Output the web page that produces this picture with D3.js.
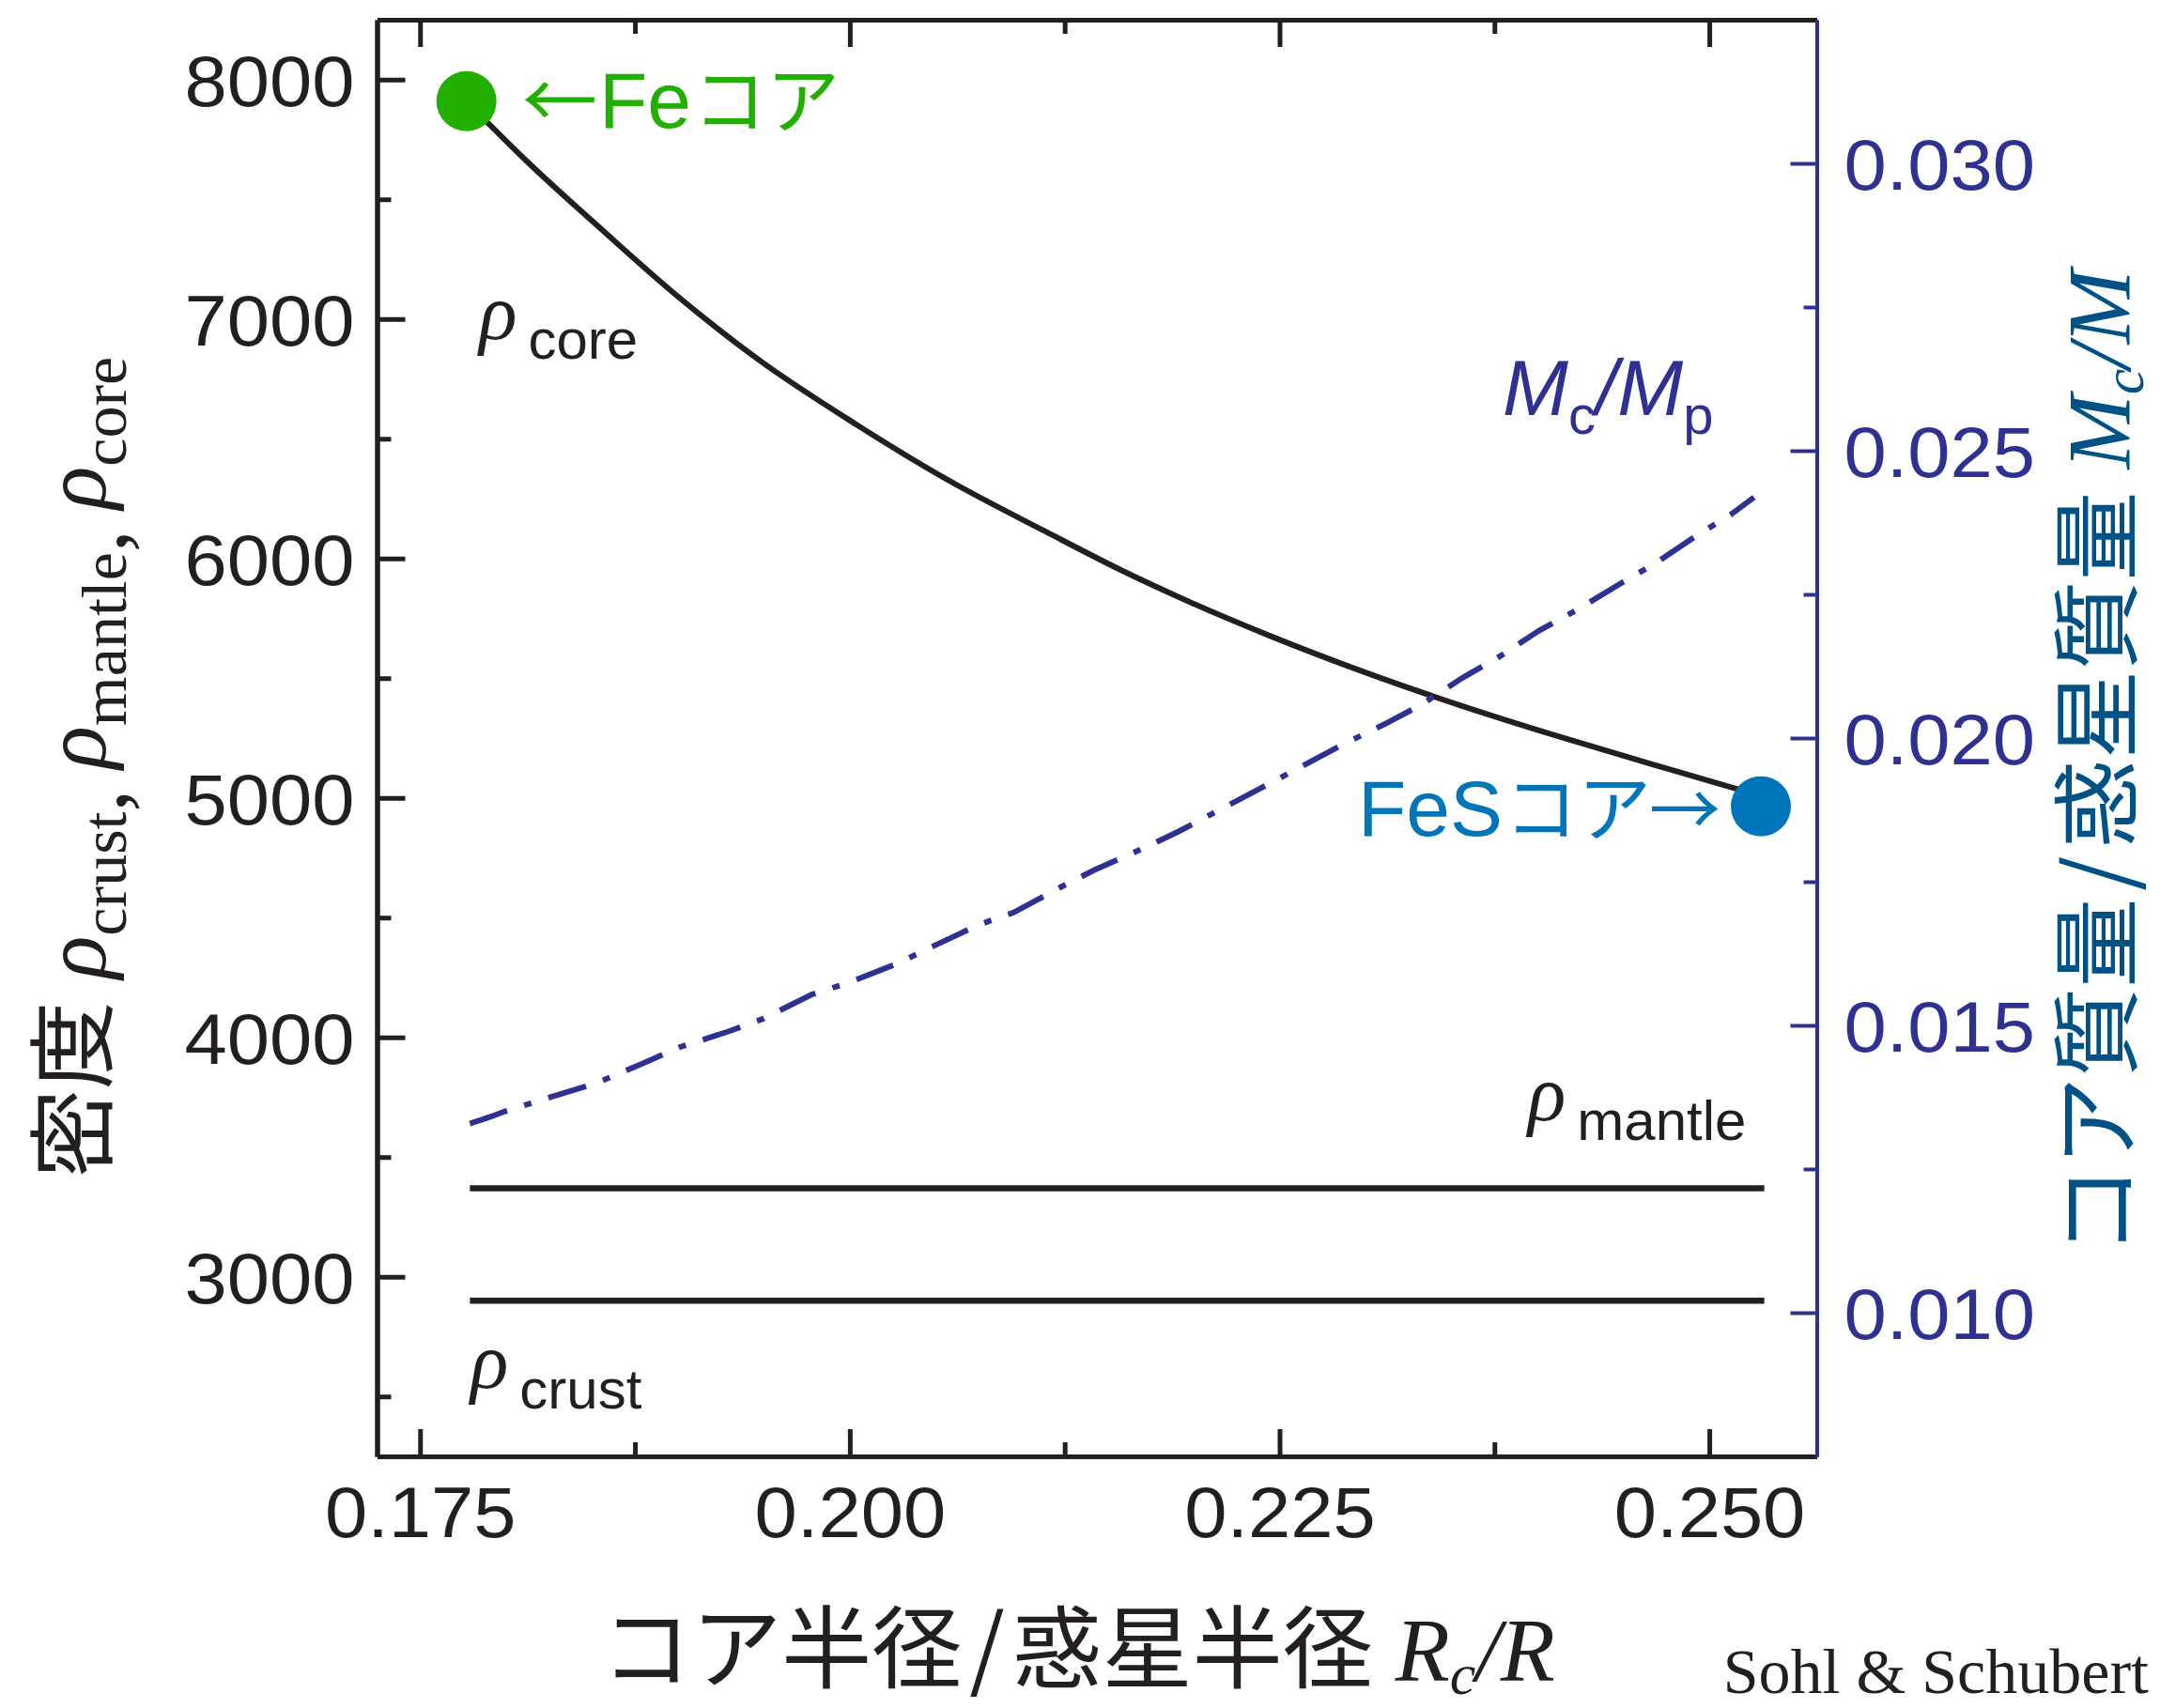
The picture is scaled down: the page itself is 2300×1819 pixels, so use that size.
<!DOCTYPE html>
<html>
<head>
<meta charset="utf-8">
<script src="https://cdn.jsdelivr.net/npm/d3@7"></script>
<style>
  body { margin: 0; background: #fff; }
  svg { display: block; }
</style>
</head>
<body>
<svg id="chart" width="2300" height="1819"></svg>
<script>
// ---------- data ----------
// core radius / planet radius (x) and core density (kg/m^3)
const coreRadius  = [0.1777, 0.1813, 0.1853, 0.1897, 0.1947, 0.2003, 0.2059, 0.2114, 0.2161,
                     0.2190, 0.2245, 0.2301, 0.2357, 0.2413, 0.2468, 0.2514, 0.2530];
const coreDensity = [7910, 7653, 7391, 7112, 6830, 6563, 6320, 6112, 5940,
                     5843, 5675, 5521, 5382, 5255, 5138, 5042, 5010];

// core mass / planet mass (right axis)
const massRadius   = [0.1779, 0.1792, 0.1799, 0.1830, 0.1853, 0.1879, 0.1901, 0.1929, 0.1950, 0.1978,
                      0.2000, 0.2028, 0.2048, 0.2075, 0.2095, 0.2123, 0.2142, 0.2170, 0.2191, 0.2217,
                      0.2238, 0.2265, 0.2285, 0.2311, 0.2332, 0.2356, 0.2377, 0.2401, 0.2423, 0.2449,
                      0.2468, 0.2493, 0.2513, 0.2526];
const massFraction = [0.01329, 0.01342, 0.01350, 0.01379, 0.01400, 0.01433, 0.01462, 0.01489, 0.01512, 0.01554,
                      0.01575, 0.01608, 0.01637, 0.01675, 0.01696, 0.01741, 0.01770, 0.01807, 0.01837, 0.01878,
                      0.01911, 0.01954, 0.01986, 0.02024, 0.02057, 0.02104, 0.02140, 0.02187, 0.02223, 0.02270,
                      0.02303, 0.02353, 0.02390, 0.02419];

// constant layer densities
const layerNames   = ["mantle", "crust"];
const layerDensity = [3370, 2900];
const layerRange   = [0.1779, 0.2532];

// end-member cores
const endNames   = ["Fe", "FeS"];
const endRadius  = [0.1777, 0.2530];
const endDensity = [7910, 4965];

// ticks
const xMajor  = [0.175, 0.200, 0.225, 0.250];
const xMinor  = [0.1875, 0.2125, 0.2375];
const yMajor  = [3000, 4000, 5000, 6000, 7000, 8000];
const yMinor  = [2500, 3500, 4500, 5500, 6500, 7500];
const y2Major = [0.010, 0.015, 0.020, 0.025, 0.030];
const y2Minor = [0.0125, 0.0175, 0.0225, 0.0275];

// ---------- layout ----------
const svg = d3.select("#chart");
const plot = { left: 401.5, right: 1934.5, top: 21, bottom: 1551 };

const BLACK = "#231f20", NAVY = "#2e3192", TITLEBLUE = "#005286",
      GREEN = "#22b000", FESBLUE = "#0075b9";
const SANS = "'Liberation Sans', Arial, Helvetica, sans-serif";
const SERIF = "'Liberation Serif', 'Times New Roman', serif";
const CJK = "'Noto Sans CJK JP', sans-serif";

const x  = d3.scaleLinear().domain([0.1725, 0.25625]).range([plot.left, plot.right]);
const y  = d3.scaleLinear().domain([2250, 8250]).range([plot.bottom, plot.top]);
const y2 = d3.scaleLinear().domain([0.0075, 0.0325]).range([plot.bottom, plot.top]);

// widen the sans digits slightly (Helvetica-style wide numerals)
function stretch(sel, k) {
  sel.each(function () {
    const len = this.getComputedTextLength();
    d3.select(this).attr("textLength", len * k).attr("lengthAdjust", "spacingAndGlyphs");
  });
}

function styleAxis(g, color, width) {
  g.select(".domain").attr("stroke", color).attr("stroke-width", width);
  g.selectAll(".tick line").attr("stroke", color).attr("stroke-width", width);
}

const fmt3 = d3.format(".3f");

// ---------- axes ----------
// bottom
const gx = svg.append("g").attr("transform", `translate(0,${plot.bottom})`)
  .call(d3.axisBottom(x).tickValues(xMajor).tickSize(-29).tickSizeOuter(0).tickPadding(0).tickFormat(fmt3));
styleAxis(gx, BLACK, 5);
gx.selectAll(".tick text").attr("font-family", SANS).attr("font-size", 76).attr("fill", BLACK)
  .attr("y", 86).attr("dy", 0);
stretch(gx.selectAll(".tick text"), 1.07);
const gxm = svg.append("g").attr("transform", `translate(0,${plot.bottom})`)
  .call(d3.axisBottom(x).tickValues(xMinor).tickSize(-15).tickSizeOuter(0).tickFormat(""));
styleAxis(gxm, BLACK, 5);

// top
const gt = svg.append("g").attr("transform", `translate(0,${plot.top})`)
  .call(d3.axisTop(x).tickValues(xMajor).tickSize(-29).tickSizeOuter(0).tickFormat(""));
styleAxis(gt, BLACK, 5);
const gtm = svg.append("g").attr("transform", `translate(0,${plot.top})`)
  .call(d3.axisTop(x).tickValues(xMinor).tickSize(-15).tickSizeOuter(0).tickFormat(""));
styleAxis(gtm, BLACK, 5);

// left
const gy = svg.append("g").attr("transform", `translate(${plot.left},0)`)
  .call(d3.axisLeft(y).tickValues(yMajor).tickSize(-30).tickSizeOuter(0).tickPadding(0).tickFormat(d3.format("d")));
styleAxis(gy, BLACK, 5);
gy.selectAll(".tick text").attr("font-family", SANS).attr("font-size", 76).attr("fill", BLACK)
  .attr("x", -24).attr("dy", "0.36em");
stretch(gy.selectAll(".tick text"), 1.07);
const gym = svg.append("g").attr("transform", `translate(${plot.left},0)`)
  .call(d3.axisLeft(y).tickValues(yMinor).tickSize(-15).tickSizeOuter(0).tickFormat(""));
styleAxis(gym, BLACK, 5);

// right (core mass fraction)
const gr = svg.append("g").attr("transform", `translate(${plot.right},0)`)
  .call(d3.axisRight(y2).tickValues(y2Major).tickSize(-28).tickSizeOuter(0).tickPadding(0).tickFormat(fmt3));
styleAxis(gr, NAVY, 4);
gr.selectAll(".tick text").attr("font-family", SANS).attr("font-size", 76).attr("fill", NAVY)
  .attr("x", 29).attr("dy", "0.36em");
stretch(gr.selectAll(".tick text"), 1.07);
const grm = svg.append("g").attr("transform", `translate(${plot.right},0)`)
  .call(d3.axisRight(y2).tickValues(y2Minor).tickSize(-14).tickSizeOuter(0).tickFormat(""));
styleAxis(grm, NAVY, 4);

// ---------- series ----------
const corePts = coreRadius.map((r, i) => [r, coreDensity[i]]);
svg.append("path")
  .datum(corePts)
  .attr("fill", "none").attr("stroke", BLACK).attr("stroke-width", 6)
  .attr("d", d3.line().x(d => x(d[0])).y(d => y(d[1])).curve(d3.curveMonotoneX));

const massPts = massRadius.map((r, i) => [r, massFraction[i]]);
svg.append("path")
  .datum(massPts)
  .attr("fill", "none").attr("stroke", NAVY).attr("stroke-width", 6)
  .attr("stroke-dasharray", "42,19,8,19")
  .attr("d", d3.line().x(d => x(d[0])).y(d => y2(d[1])));

svg.selectAll("line.layer")
  .data(layerDensity)
  .join("line").attr("class", "layer")
  .attr("x1", x(layerRange[0])).attr("x2", x(layerRange[1]))
  .attr("y1", d => y(d)).attr("y2", d => y(d))
  .attr("stroke", BLACK).attr("stroke-width", 6.5);

svg.selectAll("circle.end")
  .data(endNames)
  .join("circle").attr("class", "end")
  .attr("cx", (d, i) => x(endRadius[i])).attr("cy", (d, i) => y(endDensity[i]))
  .attr("r", 32)
  .attr("fill", (d, i) => i === 0 ? GREEN : FESBLUE);

// ---------- in-plot labels ----------
function rhoLabel(px, baseRho, sub, baseSub) {
  const t = svg.append("text").attr("fill", BLACK);
  t.append("tspan").attr("x", px).attr("y", baseRho)
    .attr("font-family", SERIF).attr("font-style", "italic").attr("font-size", 84).text("ρ");
  t.append("tspan").attr("dx", 12).attr("y", baseSub)
    .attr("font-family", SANS).attr("font-size", 60).text(sub);
}
rhoLabel(x(0.1780) + 8, 361, "core", 382);
rhoLabel(1627, 1193, "mantle", 1214);
rhoLabel(501, 1478, "crust", 1500);

// core / planet mass label
const mlab = svg.append("text").attr("fill", NAVY).attr("font-family", SANS);
mlab.append("tspan").attr("x", 1600).attr("y", 442).attr("font-style", "italic").attr("font-size", 84).text("M");
mlab.append("tspan").attr("y", 462).attr("font-size", 58).text("c");
mlab.append("tspan").attr("y", 442).attr("font-style", "italic").attr("font-size", 84).text("/M");
mlab.append("tspan").attr("y", 462).attr("font-size", 58).text("p");

// end-member labels
const feLab = svg.append("text").attr("fill", GREEN).attr("x", 556).attr("y", 136);
feLab.append("tspan").attr("font-family", CJK).attr("font-size", 80).text("←");
feLab.append("tspan").attr("font-family", SANS).attr("font-size", 84).attr("dx", 2).text("Fe");
feLab.append("tspan").attr("font-family", CJK).attr("font-size", 78).attr("dx", 2).text("コア");

const fesLab = svg.append("text").attr("fill", FESBLUE).attr("x", 1446).attr("y", 890);
fesLab.append("tspan").attr("font-family", SANS).attr("font-size", 84).text("FeS");
fesLab.append("tspan").attr("font-family", CJK).attr("font-size", 78).attr("dx", 2).text("コア");
fesLab.append("tspan").attr("font-family", CJK).attr("font-size", 76).attr("dx", -2).text("→");

// ---------- axis titles ----------
// left: density
const yt = svg.append("text").attr("fill", BLACK).attr("text-anchor", "middle")
  .attr("transform", "translate(112,817) rotate(-90)");
yt.append("tspan").attr("font-family", CJK).attr("font-size", 94).text("密度");
[["crust", true], ["mantle", true], ["core", false]].forEach(([s, comma], i) => {
  yt.append("tspan").attr("font-family", SERIF).attr("font-style", "italic").attr("font-size", 95)
    .attr("dx", i === 0 ? 24 : 22).attr("dy", i === 0 ? 0 : -22).text("ρ");
  yt.append("tspan").attr("font-family", SERIF).attr("font-size", 68).attr("dy", 22).text(s);
  if (comma) yt.append("tspan").attr("font-family", SERIF).attr("font-size", 95).attr("dy", 0).text(",");
});

// right: core mass fraction
const rt = svg.append("text").attr("fill", TITLEBLUE).attr("text-anchor", "middle")
  .attr("transform", "translate(2268,812) rotate(-90)");
rt.append("tspan").attr("font-family", CJK).attr("font-size", 95).text("コア質量");
rt.append("tspan").attr("font-family", CJK).attr("font-size", 95).attr("dx", 8).text("/");
rt.append("tspan").attr("font-family", CJK).attr("font-size", 95).attr("dx", 8).text("惑星質量");
rt.append("tspan").attr("font-family", SERIF).attr("font-style", "italic").attr("font-size", 95).attr("dx", 24).text("M");
rt.append("tspan").attr("font-family", SERIF).attr("font-style", "italic").attr("font-size", 62).attr("dy", 14).text("c");
rt.append("tspan").attr("font-family", SERIF).attr("font-style", "italic").attr("font-size", 95).attr("dy", -14).text("/M");

// bottom: core radius fraction
const xt = svg.append("text").attr("fill", BLACK).attr("text-anchor", "middle")
  .attr("transform", "translate(1148,1790)");
xt.append("tspan").attr("font-family", CJK).attr("font-size", 96).text("コア半径");
xt.append("tspan").attr("font-family", CJK).attr("font-size", 96).attr("dx", 8).text("/");
xt.append("tspan").attr("font-family", CJK).attr("font-size", 96).attr("dx", 8).text("惑星半径");
xt.append("tspan").attr("font-family", SERIF).attr("font-style", "italic").attr("font-size", 95).attr("dx", 24).text("R");
xt.append("tspan").attr("font-family", SERIF).attr("font-style", "italic").attr("font-size", 62).attr("dy", 14).text("c");
xt.append("tspan").attr("font-family", SERIF).attr("font-style", "italic").attr("font-size", 95).attr("dy", -14).text("/R");

// credit
svg.append("text").attr("x", 2288).attr("y", 1803).attr("text-anchor", "end")
  .attr("font-family", SERIF).attr("font-size", 68).attr("fill", BLACK).text("Sohl & Schubert");
</script>
</body>
</html>
